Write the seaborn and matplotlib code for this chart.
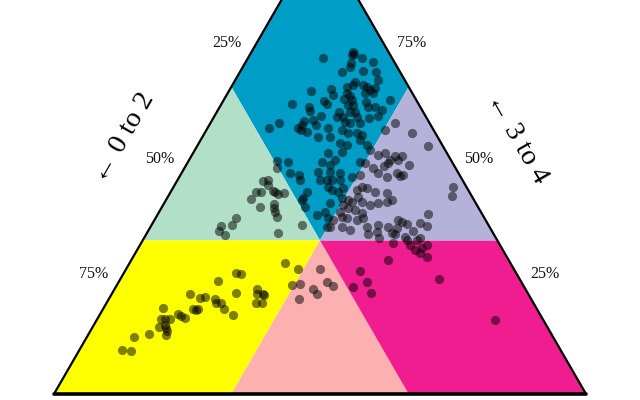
import numpy as np
import pandas as pd
import matplotlib
matplotlib.use("Agg")
import matplotlib.pyplot as plt
import seaborn as sns

# ---- data: composition shares (%) of each observation ----
# left axis component ("0 to 2") and right axis component ("3 to 4");
# the bottom component is the remainder (100 - a - b)
pct_0_to_2 = [
    6.7, 6.7, 7.2, 12.9, 5.6, 8.2, 8.9, 3.9, 6.8, 10.9,
    4.5, 5.0, 9.5, 10.2, 11.6, 8.3, 7.9, 7.6, 6.5, 18.8,
    14.8, 15.1, 12.2, 12.0, 13.5, 12.1, 13.3, 12.4, 7.3, 8.8,
    23.8, 20.9, 21.2, 17.5, 17.2, 9.7, 9.8, 8.5, 7.5, 4.9,
    15.8, 16.7, 15.6, 13.8, 12.8, 13.0, 19.6, 21.5, 23.3, 24.2,
    25.2, 24.9, 15.7, 15.0, 13.1, 10.8, 8.9, 21.6, 24.0, 19.6,
    20.2, 17.2, 16.3, 14.7, 14.0, 22.5, 9.1, 6.5, 30.7, 28.3,
    4.3,
    18.9, 17.8, 14.9, 14.1, 14.1, 22.3, 19.6, 13.1, 11.6, 32.8,
    30.8, 24.4, 21.8, 23.2, 17.3, 16.4, 15.4, 12.1, 10.0, 31.6,
    30.2, 30.5, 26.3, 26.7, 25.4, 24.5, 24.0, 22.2, 22.9, 20.4,
    18.7, 15.1, 13.8, 11.5, 30.5, 31.9, 32.3, 26.0, 25.6, 24.6,
    23.3, 20.9, 19.6, 18.8, 17.7, 15.6, 24.6, 23.6, 23.1, 25.2,
    21.5, 21.2, 32.5, 27.3, 31.1, 29.3, 26.4, 24.5, 23.4, 22.4,
    20.1, 18.3, 16.5, 35.0, 29.4, 28.7, 26.7, 25.8, 24.2, 22.8,
    30.5, 29.9, 27.7, 26.6, 23.0, 20.7, 19.0, 17.5,
    2.8, 8.7, 8.4, 11.3, 10.6, 2.5, 3.7, 10.1, 16.4, 15.9,
    15.2, 12.6, 11.6, 14.8, 9.9, 11.4, 13.2, 15.4, 14.2, 14.9,
    23.6, 21.7, 21.9, 19.0, 18.5, 16.9, 15.1, 19.9, 17.0, 16.9,
    16.4, 15.9, 15.0, 13.7, 22.6, 15.1, 9.0, 29.1, 29.0, 32.2,
    29.4, 36.4, 36.5, 35.9, 41.8, 39.9, 39.7, 43.7, 42.4, 40.5,
    43.4,
    52.6, 51.8, 56.9, 54.8, 50.5, 51.0, 49.8, 49.7, 52.1, 51.0,
    63.5, 62.2, 61.0, 59.4, 59.7, 58.7, 58.8, 57.8, 70.1, 64.6,
    63.6, 64.2, 68.0, 67.6, 67.1, 71.7, 70.9, 70.0, 73.0, 71.6,
    71.8, 71.9, 72.6, 75.7, 78.8, 82.4, 80.8,
    33.5, 37.6, 36.5, 37.1, 40.0, 39.1, 36.7, 36.5, 36.2, 35.0,
    41.8, 41.0, 38.1, 38.5, 38.7, 38.9, 46.7, 48.2, 50.3, 51.3,
    50.6, 40.4,
]
pct_3_to_4 = [
    74.2, 73.8, 73.6, 72.9, 72.9, 71.9, 71.0, 72.1, 70.1, 69.9,
    69.9, 68.2, 67.7, 67.1, 66.6, 67.1, 66.6, 66.0, 66.4, 65.8,
    66.2, 64.9, 65.3, 64.7, 64.0, 63.8, 62.7, 62.7, 65.3, 65.3,
    63.0, 62.3, 61.4, 63.6, 63.0, 63.4, 62.3, 62.3, 61.7, 63.8,
    61.2, 60.1, 60.1, 61.2, 61.2, 60.1, 60.4, 59.5, 59.3, 58.4,
    57.7, 57.3, 59.1, 58.8, 58.8, 59.9, 60.4, 58.4, 56.9, 57.7,
    55.8, 57.3, 56.7, 56.7, 56.2, 55.8, 57.3, 58.8, 57.7, 58.8,
    56.7,
    54.5, 54.1, 55.1, 54.1, 53.0, 52.3, 52.5, 51.9, 52.3, 50.6,
    50.4, 50.4, 50.8, 49.7, 50.4, 50.2, 49.1, 50.2, 51.7, 48.0,
    47.5, 46.5, 48.2, 46.5, 46.5, 46.5, 48.2, 48.0, 46.5, 47.1,
    47.5, 48.0, 47.1, 48.0, 43.9, 42.6, 42.1, 44.9, 44.3, 43.9,
    44.7, 44.3, 44.9, 44.7, 43.9, 43.6, 42.6, 42.1, 41.7, 41.0,
    42.8, 41.7, 40.6, 41.5, 38.9, 39.5, 39.5, 40.4, 39.9, 39.3,
    41.0, 41.5, 41.7, 36.7, 38.2, 37.8, 38.4, 38.2, 37.8, 38.2,
    36.3, 36.3, 36.3, 35.6, 36.3, 36.7, 36.3, 36.0,
    53.8, 51.7, 49.7, 47.3, 47.5, 44.9, 43.0, 39.1, 37.8, 37.3,
    36.9, 37.1, 36.5, 35.4, 50.8, 50.8, 49.5, 42.1, 33.9, 31.7,
    34.7, 35.2, 33.9, 35.0, 34.7, 34.1, 33.4, 32.8, 33.4, 32.3,
    31.3, 30.6, 29.7, 32.3, 29.1, 25.0, 16.1, 26.7, 24.3, 23.2,
    21.9, 27.1, 24.3, 23.4, 23.9, 22.8, 21.7, 20.6, 28.4, 27.1,
    23.7,
    26.3, 26.1, 24.5, 21.9, 22.8, 21.7, 21.7, 21.5, 19.8, 19.8,
    21.7, 20.8, 21.1, 20.6, 19.8, 19.8, 18.5, 17.2, 18.7, 18.5,
    18.5, 18.2, 17.4, 16.9, 16.5, 16.3, 16.3, 16.3, 14.5, 15.0,
    14.3, 13.7, 12.8, 13.0, 12.4, 9.6, 9.3,
    49.1, 46.2, 46.5, 45.4, 43.9, 43.9, 44.1, 43.9, 43.4, 43.6,
    42.3, 40.6, 41.2, 40.4, 39.5, 38.4, 38.2, 36.7, 36.5, 35.4,
    34.5, 35.0,
]

axis_titles = ["\u2190 0 to 2", "\u2190 3 to 4"]
tick_values = [25, 50, 75]
tick_labels = ["25%", "50%", "75%"]

# region colours (which components exceed one third)
region_colors = {
    "top": "#009ec6", "left_mid": "#b2dfc8", "right_mid": "#b4b2d9",
    "bottom_left": "#ffff00", "bottom_mid": "#fcb0b0", "bottom_right": "#ef1d8f",
}

SQ3 = np.sqrt(3) / 2


def to_xy(a, b, c):
    a, b, c = np.asarray(a, float), np.asarray(b, float), np.asarray(c, float)
    s = a + b + c
    b, c = b / s, c / s
    return c + b / 2, b * SQ3


t = 1 / 3
regions = {
    "top": [(0, 1, 0), (t, 2 * t, 0), (t, t, t), (0, 2 * t, t)],
    "left_mid": [(t, 2 * t, 0), (2 * t, t, 0), (t, t, t)],
    "bottom_left": [(2 * t, t, 0), (1, 0, 0), (2 * t, 0, t), (t, t, t)],
    "bottom_mid": [(2 * t, 0, t), (t, 0, 2 * t), (t, t, t)],
    "bottom_right": [(t, 0, 2 * t), (0, 0, 1), (0, t, 2 * t), (t, t, t)],
    "right_mid": [(0, t, 2 * t), (0, 2 * t, t), (t, t, t)],
}

sns.set_theme(style="white")
plt.rcParams["font.family"] = ["Liberation Serif", "DejaVu Serif"]

fig = plt.figure(figsize=(6.4, 4.0), dpi=100)
ax = fig.add_axes([0, 0, 1, 1])
ax.set_xlim(-0.1015, 1.1015)
ax.set_ylim(-0.0113, 0.7406)
ax.axis("off")

for name, verts in regions.items():
    a, b, c = zip(*verts)
    x, y = to_xy(a, b, c)
    ax.fill(x, y, color=region_colors[name], lw=0, zorder=1)

a = np.array(pct_0_to_2)
b = np.array(pct_3_to_4)
c = 100 - a - b
px, py = to_xy(a, b, c)
df = pd.DataFrame({"x": px, "y": py})
sns.scatterplot(data=df, x="x", y="y", color="black", alpha=0.5, s=44,
                linewidth=0, ax=ax, zorder=3, legend=False)

# triangle outline
vx, vy = to_xy([1, 0, 0], [0, 1, 0], [0, 0, 1])
ax.plot([vx[0], vx[1], vx[2]], [vy[0], vy[1], vy[2]], color="black", lw=1.6,
        zorder=4, solid_capstyle="butt")
ax.plot([vx[0], vx[2]], [vy[0], vy[2]], color="black", lw=2.6, zorder=4)

# tick labels
for v, lab in zip(tick_values, tick_labels):
    lx, ly = to_xy(v, 100 - v, 0)
    ax.text(lx - 0.0508, ly + 0.0094, lab, ha="center", va="center",
            fontsize=11.5, color="#111111")
    rx, ry = to_xy(0, v, 100 - v)
    ax.text(rx + 0.0475, ry + 0.0094, lab, ha="center", va="center",
            fontsize=11.5, color="#111111")

# axis titles
mx, my = to_xy(50, 50, 0)
ax.text(mx - 0.1190, my + 0.048, axis_titles[0], rotation=60, ha="center",
        va="center", rotation_mode="anchor", fontsize=20.5, color="black")
mx, my = to_xy(0, 50, 50)
ax.text(mx + 0.1200, my + 0.048, axis_titles[1], rotation=-60, ha="center",
        va="center", rotation_mode="anchor", fontsize=20.5, color="black")

fig.savefig("out.png", dpi=100)
